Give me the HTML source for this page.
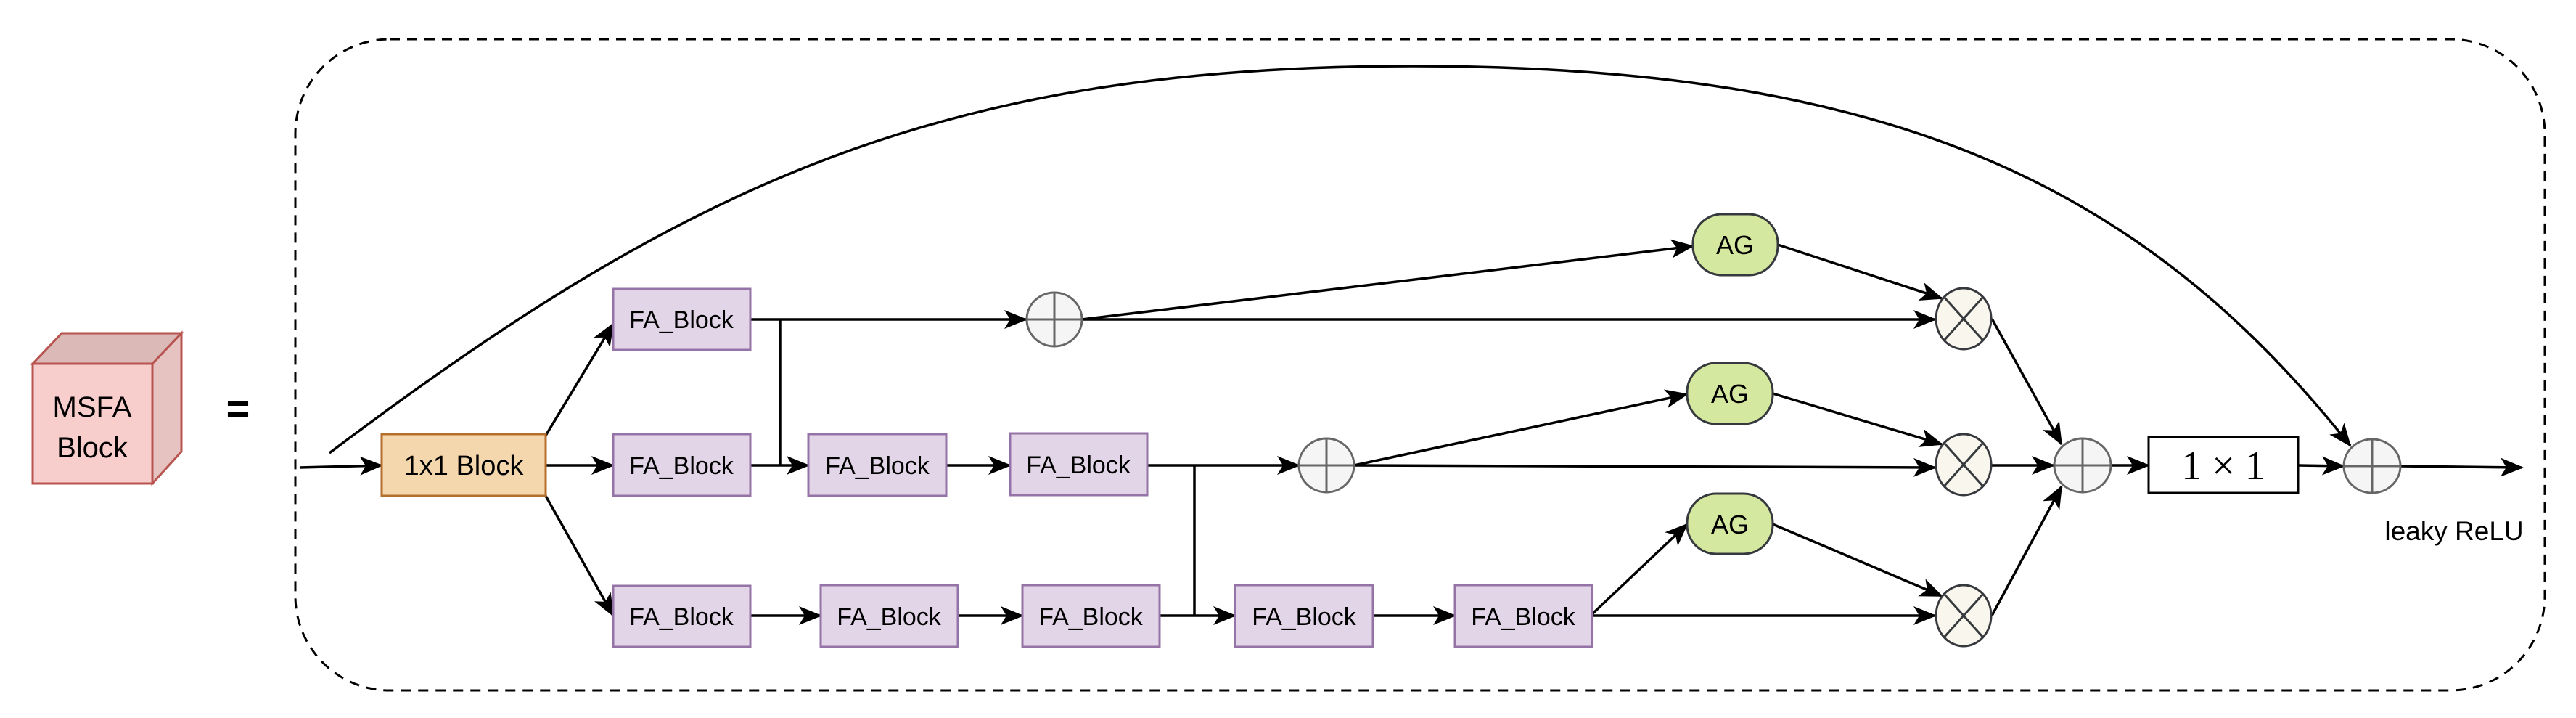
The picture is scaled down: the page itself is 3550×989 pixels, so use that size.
<!DOCTYPE html>
<html><head><meta charset="utf-8"><style>
html,body{margin:0;padding:0;background:#fff}
svg{display:block}
text{font-family:"Liberation Sans",sans-serif;fill:#000}
</style></head><body>
<svg width="3550" height="989" viewBox="0 0 3550 989" xmlns="http://www.w3.org/2000/svg">
<defs>
<marker id="a" markerUnits="userSpaceOnUse" markerWidth="34" markerHeight="26" refX="30" refY="13" orient="auto">
<path d="M0,0 L32,13 L0,26 L8,13 Z" fill="#000"/>
</marker>
</defs>
<rect x="407" y="54" width="3100" height="897" rx="130" ry="130" fill="none" stroke="#000" stroke-width="3" stroke-dasharray="14,10"/>

<polygon points="45,501 85,459 250,459 210,501" fill="#dab9b7" stroke="#b85450" stroke-width="3"/>
<polygon points="210,501 250,459 250,622 210,666" fill="#e6c2c0" stroke="#b85450" stroke-width="3"/>
<rect x="45" y="501" width="165" height="165" fill="#f8cecc" stroke="#b85450" stroke-width="3"/>
<text x="127" y="574" font-size="40" text-anchor="middle">MSFA</text>
<text x="127" y="630" font-size="40" text-anchor="middle">Block</text>
<text x="328" y="582" font-size="56" font-weight="bold" text-anchor="middle">=</text>

<g stroke="#000" stroke-width="3.5" fill="none">
<path d="M454,624 C950,250 1300,91 1947,91 C2600,91 2950,250 3239,614" marker-end="url(#a)"/>
<line x1="413" y1="644" x2="526" y2="641" marker-end="url(#a)"/>
<line x1="752" y1="600" x2="845" y2="446" marker-end="url(#a)"/>
<line x1="752" y1="641" x2="845" y2="641" marker-end="url(#a)"/>
<line x1="752" y1="683" x2="845" y2="848" marker-end="url(#a)"/>
<line x1="1034" y1="440" x2="1414" y2="440" marker-end="url(#a)"/>
<line x1="1075" y1="440" x2="1075" y2="641"/>
<line x1="1034" y1="641" x2="1114" y2="641" marker-end="url(#a)"/>
<line x1="1304" y1="641" x2="1392" y2="641" marker-end="url(#a)"/>
<line x1="1581" y1="641" x2="1790" y2="641" marker-end="url(#a)"/>
<line x1="1646" y1="641" x2="1646" y2="848"/>
<line x1="1034" y1="848" x2="1131" y2="848" marker-end="url(#a)"/>
<line x1="1320" y1="848" x2="1409" y2="848" marker-end="url(#a)"/>
<line x1="1598" y1="848" x2="1702" y2="848" marker-end="url(#a)"/>
<line x1="1892" y1="848" x2="2005" y2="848" marker-end="url(#a)"/>
<line x1="2194" y1="848" x2="2667" y2="848" marker-end="url(#a)"/>
<line x1="2194" y1="846" x2="2325" y2="722" marker-end="url(#a)"/>
<line x1="2443" y1="722" x2="2676" y2="821" marker-end="url(#a)"/>
<line x1="1491" y1="440" x2="2333" y2="339" marker-end="url(#a)"/>
<line x1="1491" y1="440" x2="2667" y2="440" marker-end="url(#a)"/>
<line x1="2450" y1="337" x2="2676" y2="411" marker-end="url(#a)"/>
<line x1="1866" y1="641" x2="2325" y2="543" marker-end="url(#a)"/>
<line x1="1866" y1="641" x2="2667" y2="644" marker-end="url(#a)"/>
<line x1="2443" y1="542" x2="2676" y2="612" marker-end="url(#a)"/>
<line x1="2745" y1="439" x2="2841" y2="612" marker-end="url(#a)"/>
<line x1="2745" y1="641" x2="2830" y2="641" marker-end="url(#a)"/>
<line x1="2745" y1="848" x2="2841" y2="670" marker-end="url(#a)"/>
<line x1="2909" y1="641" x2="2961" y2="641" marker-end="url(#a)"/>
<line x1="3167" y1="641" x2="3230" y2="642" marker-end="url(#a)"/>
<line x1="3308" y1="642" x2="3476" y2="644" marker-end="url(#a)"/>
</g>

<rect x="526" y="598" width="226" height="85" fill="#f5d7ae" stroke="#b46f2c" stroke-width="3"/>
<text x="639" y="654" font-size="38" text-anchor="middle">1x1 Block</text>

<g fill="#e1d5e7" stroke="#9673a6" stroke-width="3">
<rect x="845" y="398" width="189" height="84"/>
<rect x="845" y="598" width="189" height="85"/>
<rect x="845" y="807" width="189" height="84"/>
<rect x="1114" y="598" width="190" height="85"/>
<rect x="1392" y="597" width="189" height="85"/>
<rect x="1131" y="806" width="189" height="85"/>
<rect x="1409" y="806" width="189" height="85"/>
<rect x="1702" y="806" width="190" height="85"/>
<rect x="2005" y="806" width="189" height="85"/>
</g>
<g font-size="34" text-anchor="middle">
<text x="939" y="452">FA_Block</text>
<text x="939" y="653">FA_Block</text>
<text x="939" y="861">FA_Block</text>
<text x="1209" y="653">FA_Block</text>
<text x="1486" y="652">FA_Block</text>
<text x="1225" y="861">FA_Block</text>
<text x="1503" y="861">FA_Block</text>
<text x="1797" y="861">FA_Block</text>
<text x="2099" y="861">FA_Block</text>
</g>

<g fill="#d5e8a0" stroke="#36393d" stroke-width="3">
<rect x="2333" y="295" width="117" height="84" rx="40" ry="40"/>
<rect x="2325" y="500" width="118" height="84" rx="40" ry="40"/>
<rect x="2325" y="680" width="118" height="83" rx="40" ry="40"/>
</g>
<g font-size="36" text-anchor="middle">
<text x="2391" y="350">AG</text>
<text x="2384" y="555">AG</text>
<text x="2384" y="735">AG</text>
</g>

<g fill="#f5f5f5" stroke="#666" stroke-width="3">
<ellipse cx="1453" cy="440" rx="38" ry="37"/>
<line x1="1415" y1="440" x2="1491" y2="440"/><line x1="1453" y1="403" x2="1453" y2="477"/>
<ellipse cx="1828" cy="641" rx="38" ry="37"/>
<line x1="1790" y1="641" x2="1866" y2="641"/><line x1="1828" y1="604" x2="1828" y2="678"/>
<ellipse cx="2870" cy="641" rx="39" ry="37"/>
<line x1="2831" y1="641" x2="2909" y2="641"/><line x1="2870" y1="604" x2="2870" y2="678"/>
<ellipse cx="3269" cy="642" rx="39" ry="37"/>
<line x1="3230" y1="642" x2="3308" y2="642"/><line x1="3269" y1="605" x2="3269" y2="679"/>
</g>

<g fill="#f9f7ed" stroke="#36393d" stroke-width="3">
<ellipse cx="2706" cy="439" rx="38" ry="42"/>
<line x1="2679" y1="409" x2="2733" y2="469"/><line x1="2733" y1="409" x2="2679" y2="469"/>
<ellipse cx="2706" cy="640" rx="38" ry="42"/>
<line x1="2679" y1="610" x2="2733" y2="670"/><line x1="2733" y1="610" x2="2679" y2="670"/>
<ellipse cx="2706" cy="848" rx="38" ry="42"/>
<line x1="2679" y1="818" x2="2733" y2="878"/><line x1="2733" y1="818" x2="2679" y2="878"/>
</g>

<rect x="2961" y="602" width="206" height="77" fill="#fff" stroke="#000" stroke-width="3"/>
<text x="3064" y="660" font-size="56" text-anchor="middle" style="font-family:'Liberation Serif',serif">1 × 1</text>

<text x="3382" y="744" font-size="37" text-anchor="middle">leaky ReLU</text>
</svg>
</body></html>
